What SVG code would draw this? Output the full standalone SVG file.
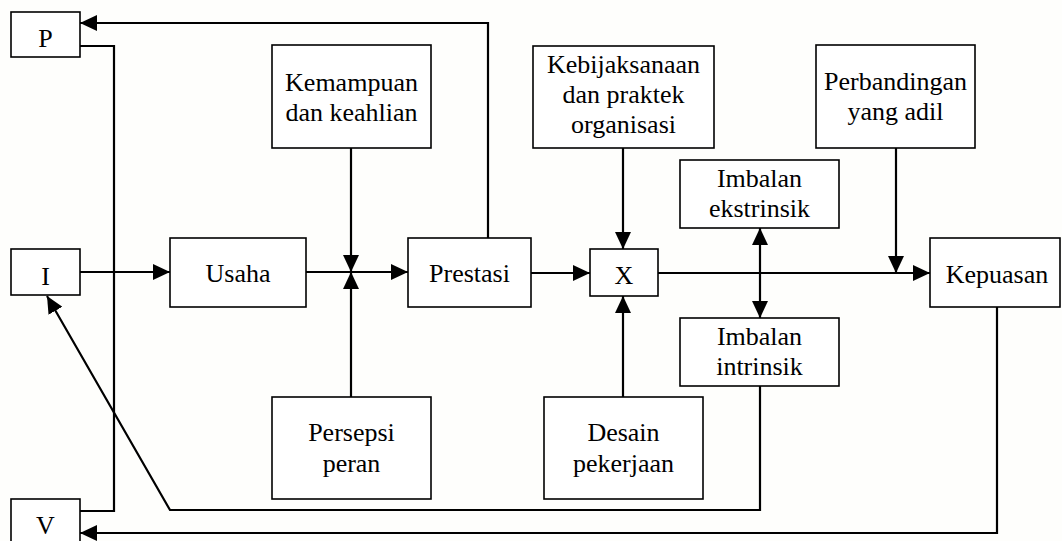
<svg xmlns="http://www.w3.org/2000/svg" width="1062" height="541" viewBox="0 0 1062 541">
  <style>
    .box { fill: #ffffff; stroke: #000000; stroke-width: 1.6; }
    .lbl { font-family: "Liberation Serif", "Times New Roman", serif; font-size: 26px; fill: #000000; text-anchor: middle; }
    .wire { fill: none; stroke: #000000; stroke-width: 2.2; }
    .arrow { marker-end: url(#head); }
  </style>
  <defs>
    <marker id="head" markerUnits="userSpaceOnUse" markerWidth="18" markerHeight="16" refX="17" refY="8" orient="auto">
      <path d="M0,0 L17,8 L0,16 Z" fill="#000000"/>
    </marker>
  </defs>
  <rect width="1062" height="541" fill="#fefefc"/>

  <!-- connectors -->
  <g id="connectors">
    <!-- I to Usaha -->
    <line class="wire arrow" x1="80" y1="272" x2="170" y2="272"/>
    <!-- Usaha to Prestasi through the junction -->
    <line class="wire arrow" x1="306" y1="272" x2="408" y2="272"/>
    <!-- Kemampuan down to junction -->
    <line class="wire arrow" x1="351" y1="148" x2="351" y2="272"/>
    <!-- Persepsi up to junction -->
    <line class="wire arrow" x1="351" y1="397" x2="351" y2="272"/>
    <!-- Prestasi to X -->
    <line class="wire arrow" x1="531" y1="273" x2="590" y2="273"/>
    <!-- Prestasi feedback to P -->
    <polyline class="wire arrow" points="488,238 488,23 80,23"/>
    <!-- Kebijaksanaan down to X -->
    <line class="wire arrow" x1="623" y1="148" x2="623" y2="249"/>
    <!-- Desain up to X -->
    <line class="wire arrow" x1="623" y1="397" x2="623" y2="296"/>
    <!-- X to Kepuasan -->
    <line class="wire arrow" x1="658" y1="273" x2="930" y2="273"/>
    <!-- Perbandingan down to the X-Kepuasan line -->
    <line class="wire arrow" x1="896" y1="148" x2="896" y2="273"/>
    <!-- Imbalan ekstrinsik / intrinsik double arrow -->
    <line class="wire arrow" x1="760" y1="273" x2="760" y2="228"/>
    <line class="wire arrow" x1="760" y1="273" x2="760" y2="318"/>
    <!-- P to V -->
    <polyline class="wire" points="80,46 114,46 114,511 80,511"/>
    <!-- Imbalan intrinsik feedback to I -->
    <polyline class="wire arrow" points="760,386 760,510 170,510 47,296"/>
    <!-- Kepuasan feedback to V -->
    <polyline class="wire arrow" points="997,307 997,533 80,533"/>
  </g>

  <g id="node-p">
    <rect class="box" x="11" y="12" width="69" height="45"/>
    <text class="lbl" x="45.5" y="47">P</text>
  </g>
  <g id="node-i">
    <rect class="box" x="11" y="249" width="69" height="46"/>
    <text class="lbl" x="45.5" y="285">I</text>
  </g>
  <g id="node-v">
    <rect class="box" x="11" y="499" width="69" height="50"/>
    <text class="lbl" x="45.5" y="534">V</text>
  </g>
  <g id="node-usaha">
    <rect class="box" x="170" y="238" width="136" height="69"/>
    <text class="lbl" x="238" y="282">Usaha</text>
  </g>
  <g id="node-kemampuan">
    <rect class="box" x="272" y="45" width="159" height="103"/>
    <text class="lbl" x="351.5" y="91">Kemampuan</text>
    <text class="lbl" x="351.5" y="121">dan keahlian</text>
  </g>
  <g id="node-persepsi">
    <rect class="box" x="272" y="397" width="159" height="102"/>
    <text class="lbl" x="351.5" y="441">Persepsi</text>
    <text class="lbl" x="351.5" y="472">peran</text>
  </g>
  <g id="node-prestasi">
    <rect class="box" x="408" y="238" width="123" height="69"/>
    <text class="lbl" x="469.5" y="282">Prestasi</text>
  </g>
  <g id="node-kebijaksanaan">
    <rect class="box" x="533" y="46" width="181" height="102"/>
    <text class="lbl" x="623.5" y="73">Kebijaksanaan</text>
    <text class="lbl" x="623.5" y="103">dan praktek</text>
    <text class="lbl" x="623.5" y="133">organisasi</text>
  </g>
  <g id="node-x">
    <rect class="box" x="590" y="249" width="68" height="47"/>
    <text class="lbl" x="624" y="284">X</text>
  </g>
  <g id="node-desain">
    <rect class="box" x="544" y="397" width="159" height="102"/>
    <text class="lbl" x="623.5" y="441">Desain</text>
    <text class="lbl" x="623.5" y="472">pekerjaan</text>
  </g>
  <g id="node-ekstrinsik">
    <rect class="box" x="680" y="160" width="159" height="68"/>
    <text class="lbl" x="759.5" y="187">Imbalan</text>
    <text class="lbl" x="759.5" y="217">ekstrinsik</text>
  </g>
  <g id="node-intrinsik">
    <rect class="box" x="680" y="318" width="159" height="68"/>
    <text class="lbl" x="759.5" y="345">Imbalan</text>
    <text class="lbl" x="759.5" y="375">intrinsik</text>
  </g>
  <g id="node-perbandingan">
    <rect class="box" x="816" y="45" width="159" height="103"/>
    <text class="lbl" x="895.5" y="90">Perbandingan</text>
    <text class="lbl" x="895.5" y="120">yang adil</text>
  </g>
  <g id="node-kepuasan">
    <rect class="box" x="930" y="238" width="130" height="69"/>
    <text class="lbl" x="997" y="283">Kepuasan</text>
  </g>
</svg>
